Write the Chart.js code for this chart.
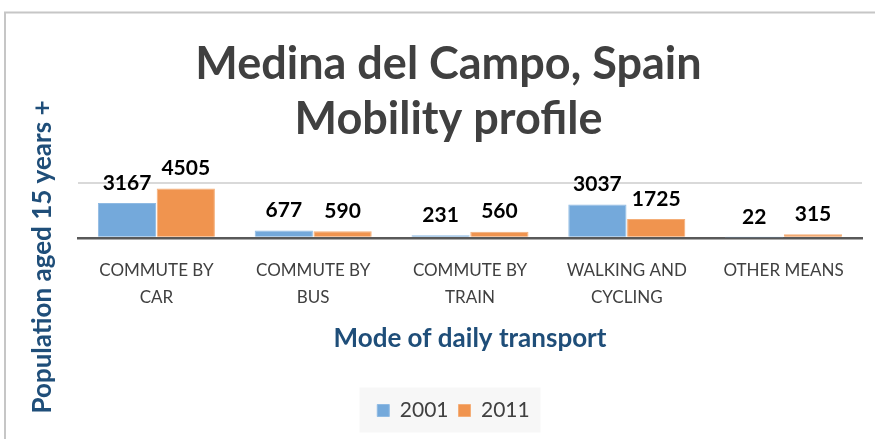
<!DOCTYPE html>
<html>
<head>
<meta charset="utf-8">
<script src="https://cdn.jsdelivr.net/npm/chart.js@4"></script>
<style>
  body { margin: 0; background: #fff; }
  canvas { display: block; }
</style>
</head>
<body>
<canvas id="mobilityChart" width="875" height="439"></canvas>
<script>
// categories and values
var categories = [['COMMUTE BY', 'CAR'], ['COMMUTE BY', 'BUS'], ['COMMUTE BY', 'TRAIN'], ['WALKING AND', 'CYCLING'], 'OTHER MEANS'];
var values2001 = [3167, 677, 231, 3037, 22];
var values2011 = [4505, 590, 560, 1725, 315];
var seriesNames = ['2001', '2011'];
var yTitle = 'Population aged 15 years +';

var FONT = 'Lato, "Open Sans", sans-serif';

function centerBox(box, cx) {
    var half = (box.right - box.left) / 2;
    box.left = cx - half;
    box.right = cx + half;
}

// frame lines, legend background box, y axis title
var framePlugin = {
    id: 'frame',
    afterLayout: function (chart) {
        // title and legend are not centred on the plot in the original
        centerBox(chart.titleBlock, 448.5);
        centerBox(chart.legend, 453.5);
    },
    beforeDraw: function (chart) {
        var ctx = chart.ctx;
        var lg = chart.legend;
        var cx = (lg.left + lg.right) / 2;
        ctx.save();
        ctx.fillStyle = '#f7f7f7';
        ctx.fillRect(cx - 94, lg.top - 2.5, 181, lg.bottom - lg.top + 4);
        ctx.strokeStyle = '#c6c6c6';
        ctx.lineWidth = 2;
        ctx.beginPath();
        ctx.moveTo(5, 439);
        ctx.lineTo(5, 12.5);
        ctx.lineTo(875, 12.5);
        ctx.stroke();

        ctx.translate(43, 257);
        ctx.rotate(-Math.PI / 2);
        ctx.font = 'bold 26px ' + FONT;
        ctx.fillStyle = '#1f4e79';
        ctx.textAlign = 'center';
        ctx.textBaseline = 'middle';
        ctx.fillText(yTitle, 0, 0);
        ctx.restore();
    }
};

// value labels above bars
var valueLabels = {
    id: 'valueLabels',
    afterDatasetsDraw: function (chart) {
        var ctx = chart.ctx;
        ctx.save();
        ctx.font = 'bold 21px ' + FONT;
        ctx.fillStyle = '#000';
        ctx.textAlign = 'center';
        ctx.textBaseline = 'middle';
        chart.data.datasets.forEach(function (ds, i) {
            chart.getDatasetMeta(i).data.forEach(function (bar, j) {
                ctx.fillText(ds.data[j], bar.x, bar.y - 20);
            });
        });
        ctx.restore();
    }
};

new Chart(document.getElementById('mobilityChart').getContext('2d'), {
    type: 'bar',
    data: {
        labels: categories,
        datasets: [{
            label: seriesNames[0],
            data: values2001,
            backgroundColor: '#74a9db',
            borderColor: '#8fbae3',
            borderWidth: 1,
            categoryPercentage: 0.75,
            barPercentage: 0.99
        }, {
            label: seriesNames[1],
            data: values2011,
            backgroundColor: '#f0944f',
            borderColor: '#f4ae78',
            borderWidth: 1,
            categoryPercentage: 0.75,
            barPercentage: 0.99
        }]
    },
    options: {
        responsive: false,
        animation: false,
        layout: {
            padding: { left: 78, right: 13, top: 0, bottom: 8 }
        },
        plugins: {
            title: {
                display: true,
                text: ['Medina del Campo, Spain', 'Mobility profile'],
                color: '#404040',
                font: { family: FONT, size: 45, weight: 'bold', lineHeight: 1.22 },
                padding: { top: 37.5, bottom: 35.7 }
            },
            legend: {
                position: 'bottom',
                labels: {
                    color: '#404040',
                    font: { family: FONT, size: 21 },
                    boxWidth: 12,
                    boxHeight: 12,
                    padding: 10
                }
            },
            tooltip: { enabled: false }
        },
        scales: {
            x: {
                grid: { display: false, drawTicks: false },
                border: { display: true, color: '#595959', width: 2.5 },
                ticks: {
                    color: '#404040',
                    font: { family: FONT, size: 17, lineHeight: 1.588 },
                    padding: 19.5,
                    maxRotation: 0,
                    autoSkip: false
                },
                title: {
                    display: true,
                    text: 'Mode of daily transport',
                    color: '#1f4e79',
                    font: { family: FONT, size: 26, weight: 'bold', lineHeight: 1.2 },
                    padding: { top: -8, bottom: 36 }
                }
            },
            y: {
                min: 0,
                max: 5000,
                ticks: { display: false, stepSize: 5000 },
                grid: { color: '#d9d9d9', lineWidth: 2, drawTicks: false },
                border: { display: false },
                title: { display: false }
            }
        }
    },
    plugins: [framePlugin, valueLabels]
});
</script>
</body>
</html>
